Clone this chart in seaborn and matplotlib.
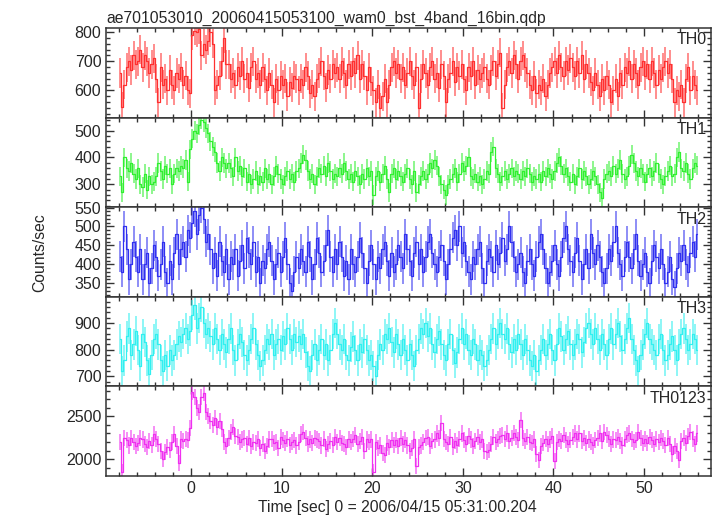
import numpy as np
import matplotlib
matplotlib.use("Agg")
import matplotlib.pyplot as plt
from matplotlib.ticker import MultipleLocator
import seaborn as sns

# light curve, 0.25 s bins starting at t = -8 s
t_start = -8.0
bin_size = 0.25

th0 = [
    660, 545, 620, 680, 700, 670, 720, 690,
    700, 740, 680, 720, 700, 660, 690, 710,
    640, 560, 680, 620, 640, 600, 670, 620,
    600, 660, 640, 680, 620, 650, 600, 590,
    790, 805, 800, 810, 720, 760, 740, 770,
    800, 760, 600, 620, 650, 700, 780, 690,
    690, 640, 660, 620, 680, 650, 700, 640,
    660, 610, 680, 700, 640, 660, 620, 680,
    640, 600, 660, 620, 560, 640, 600, 650,
    620, 640, 580, 630, 610, 650, 640, 600,
    640, 620, 680, 650, 590, 620, 580, 640,
    660, 700, 650, 610, 670, 640, 690, 660,
    680, 640, 700, 660, 620, 690, 650, 700,
    660, 720, 640, 690, 650, 600, 680, 630,
    600, 560, 620, 540, 580, 640, 560, 620,
    680, 700, 660, 690, 640, 680, 620, 660,
    700, 650, 620, 680, 540, 640, 690, 660,
    620, 680, 700, 640, 660, 610, 690, 650,
    560, 640, 660, 700, 630, 680, 650, 690,
    640, 600, 680, 650, 700, 620, 670, 640,
    660, 680, 640, 620, 670, 700, 650, 690,
    730, 540, 620, 680, 700, 660, 720, 690,
    640, 700, 720, 680, 660, 620, 600, 650,
    590, 620, 600, 640, 580, 620, 660, 680,
    700, 660, 720, 680, 650, 700, 670, 710,
    680, 650, 700, 660, 720, 640, 690, 660,
    630, 600, 660, 620, 580, 640, 600, 650,
    620, 560, 600, 640, 580, 660, 620, 680,
    660, 700, 640, 690, 660, 620, 680, 700,
    650, 690, 640, 700, 660, 620, 670, 640,
    680, 700, 660, 690, 640, 560, 600, 580,
    620, 560, 640, 680, 600, 650, 620, 600,
]

th1 = [
    330, 270, 400, 360, 350, 380, 340, 320,
    360, 300, 290, 340, 280, 330, 300, 310,
    330, 380, 350, 320, 370, 340, 360, 300,
    340, 360, 350, 370, 360, 390, 310, 430,
    470, 500, 490, 520, 540, 530, 510, 490,
    460, 440, 420, 380, 350, 400, 380, 360,
    380, 360, 330, 400, 350, 370, 330, 360,
    310, 340, 300, 320, 350, 300, 330, 310,
    360, 320, 340, 300, 330, 370, 340, 320,
    300, 330, 350, 320, 340, 310, 350, 360,
    380, 410, 390, 350, 320, 340, 300, 330,
    360, 340, 370, 330, 380, 350, 320, 340,
    330, 360, 340, 380, 350, 320, 340, 310,
    350, 330, 300, 340, 320, 360, 330, 350,
    260, 330, 350, 310, 340, 370, 320, 270,
    340, 360, 320, 350, 330, 310, 340, 360,
    320, 300, 350, 270, 300, 330, 350, 320,
    340, 380, 360, 390, 370, 330, 300, 280,
    260, 300, 320, 340, 360, 310, 340, 380,
    350, 370, 400, 330, 320, 340, 310, 330,
    300, 320, 350, 340, 420, 440, 360, 340,
    310, 330, 350, 320, 340, 360, 330, 350,
    340, 320, 350, 330, 360, 340, 310, 330,
    320, 340, 310, 350, 330, 360, 340, 320,
    350, 380, 400, 370, 340, 360, 330, 310,
    340, 300, 330, 360, 320, 350, 330, 300,
    320, 350, 330, 300, 270, 250, 320, 340,
    350, 330, 370, 340, 360, 390, 340, 320,
    330, 370, 410, 380, 350, 330, 360, 340,
    310, 340, 360, 330, 350, 380, 340, 320,
    300, 330, 350, 370, 330, 340, 400, 420,
    360, 350, 380, 340, 320, 360, 380, 370,
]

th2 = [
    420, 380, 500, 440, 360, 400, 460, 420,
    380, 440, 360, 400, 430, 350, 390, 450,
    420, 370, 400, 460, 380, 350, 410, 360,
    430, 480, 400, 440, 460, 420, 490, 470,
    510, 540, 480, 530, 550, 520, 460, 480,
    440, 390, 430, 370, 460, 410, 380, 440,
    360, 420, 400, 440, 370, 410, 450, 390,
    470, 430, 400, 460, 380, 420, 350, 410,
    390, 440, 460, 410, 360, 400, 430, 380,
    420, 470, 400, 350, 330, 380, 420, 390,
    440, 410, 380, 460, 420, 360, 400, 470,
    430, 380, 410, 450, 490, 420, 380, 440,
    400, 460, 420, 370, 410, 360, 440, 400,
    380, 420, 470, 430, 390, 350, 410, 450,
    400, 360, 420, 390, 440, 460, 410, 370,
    430, 380, 400, 450, 420, 390, 480, 440,
    410, 370, 430, 460, 400, 440, 380, 420,
    460, 480, 430, 400, 380, 420, 450, 410,
    360, 400, 440, 470, 490, 450, 500, 430,
    460, 410, 380, 360, 420, 400, 440, 460,
    390, 350, 410, 440, 420, 380, 450, 400,
    430, 470, 410, 440, 500, 460, 420, 380,
    400, 430, 380, 350, 410, 440, 400, 370,
    420, 460, 480, 440, 390, 350, 380, 410,
    450, 400, 370, 420, 470, 500, 440, 410,
    380, 430, 470, 410, 360, 400, 440, 390,
    480, 430, 400, 450, 420, 380, 350, 390,
    440, 410, 460, 500, 430, 400, 370, 420,
    460, 420, 390, 440, 480, 410, 370, 400,
    430, 380, 350, 410, 450, 420, 390, 440,
    400, 350, 380, 420, 360, 340, 390, 430,
    410, 450, 400, 380, 430, 460, 420, 480,
]

th3 = [
    840, 720, 760, 850, 880, 780, 820, 870,
    800, 740, 860, 830, 760, 710, 780, 840,
    860, 820, 760, 720, 780, 740, 800, 760,
    780, 820, 850, 830, 860, 880, 840, 870,
    930, 970, 880, 920, 960, 900, 860, 880,
    850, 820, 880, 840, 800, 860, 820, 790,
    840, 880, 800, 760, 820, 860, 830, 780,
    760, 800, 840, 880, 820, 780, 740, 760,
    800, 840, 820, 860, 780, 820, 840, 800,
    850, 820, 880, 840, 800, 860, 830, 850,
    820, 860, 790, 740, 720, 780, 820, 760,
    800, 840, 780, 820, 760, 800, 860, 900,
    860, 820, 800, 840, 780, 760, 810, 850,
    800, 760, 820, 790, 840, 800, 760, 780,
    740, 700, 780, 820, 800, 860, 840, 880,
    830, 790, 860, 820, 780, 840, 800, 760,
    820, 780, 740, 800, 840, 880, 860, 900,
    850, 880, 820, 790, 840, 870, 820, 780,
    760, 820, 860, 800, 750, 790, 840, 880,
    820, 860, 800, 780, 840, 820, 760, 800,
    780, 740, 760, 800, 840, 880, 820, 860,
    900, 860, 840, 880, 820, 790, 840, 800,
    860, 820, 780, 840, 800, 760, 740, 780,
    720, 760, 800, 840, 780, 820, 860, 800,
    760, 820, 880, 850, 800, 840, 870, 820,
    780, 820, 860, 840, 790, 830, 880, 900,
    860, 820, 880, 840, 800, 860, 820, 780,
    840, 880, 820, 860, 900, 850, 800, 840,
    880, 920, 840, 800, 760, 720, 780, 820,
    860, 900, 840, 820, 800, 780, 840, 860,
    800, 760, 780, 820, 850, 800, 760, 820,
    860, 880, 840, 800, 820, 860, 840, 800,
]

th0123 = [
    2200, 1850, 2250, 2220, 2160, 2250, 2200, 2150,
    2190, 2250, 2230, 2180, 2140, 2210, 2170, 2290,
    2240, 2180, 2100, 2000, 2080, 2140, 2110, 2200,
    2290, 2150, 1960, 2230, 2210, 2240, 2220, 2360,
    2780, 2720, 2600, 2550, 2720, 2770, 2550, 2500,
    2450, 2400, 2480, 2380, 2440, 2350, 2200, 2150,
    2250, 2320, 2380, 2270, 2260, 2200, 2230, 2250,
    2180, 2250, 2150, 2200, 2190, 2240, 2130, 2180,
    2100, 2150, 2230, 2240, 2190, 2200, 2130, 2260,
    2220, 2190, 2240, 2170, 2200, 2220, 2160, 2200,
    2290, 2320, 2250, 2180, 2230, 2190, 2250, 2230,
    2210, 2160, 2240, 2120, 2180, 2210, 2170, 2260,
    2200, 2250, 2190, 2180, 2140, 2230, 2200, 2240,
    2280, 2180, 2210, 2260, 2100, 2230, 2200, 2230,
    1850, 2200, 2130, 2160, 2070, 2050, 2190, 2140,
    2220, 2170, 2220, 2150, 2250, 2180, 2220, 2160,
    2100, 2130, 2230, 1920, 2140, 2160, 2200, 2250,
    2260, 2150, 2210, 2230, 2300, 2250, 2420, 2240,
    2200, 2180, 2260, 2140, 2210, 2170, 2240, 2300,
    2220, 2180, 2270, 2230, 2150, 2210, 2260, 2200,
    2230, 2100, 2080, 2110, 2180, 2260, 2200, 2240,
    2270, 2280, 2240, 2300, 2210, 2250, 2310, 2260,
    2220, 2460, 2250, 2210, 2260, 2200, 2190, 2230,
    2060, 1990, 2150, 2190, 2240, 2180, 2230, 2270,
    1980, 2200, 2240, 2210, 2280, 2220, 2180, 2220,
    2260, 2300, 2230, 2300, 2210, 2250, 2190, 2230,
    2200, 2160, 2220, 2250, 2300, 2210, 2320, 2280,
    2240, 2180, 2230, 2220, 2260, 2210, 2160, 2240,
    2280, 2300, 2240, 2200, 2220, 2320, 2250, 2190,
    2240, 2190, 2260, 2220, 2180, 2240, 2200, 2250,
    2210, 2170, 2250, 2180, 2060, 2150, 2100, 1990,
    2210, 2250, 2190, 2270, 2320, 2240, 2180, 2300,
]

bands = ["TH0", "TH1", "TH2", "TH3", "TH0123"]
rates = [th0, th1, th2, th3, th0123]
errors = [50, 36, 41, 57, 94]  # typical 1-sigma half length per band

colors = ["#ff3030", "#30f030", "#3030f0", "#30f0f0", "#f030f0"]
ylims = [(507, 814), (215, 548), (314, 551), (662, 999), (1804, 2848)]
ymajor = [100, 100, 50, 100, 500]
yminor = [20, 20, 10, 20, 100]

sns.set_style("ticks")
plt.rcParams["font.family"] = ["Liberation Sans", "DejaVu Sans"]

fig, axes = plt.subplots(5, 1, sharex=True, figsize=(7.17, 5.16), dpi=100)
fig.subplots_adjust(left=0.148, right=0.9916, top=0.9457, bottom=0.0775, hspace=0)

for i, ax in enumerate(axes):
    v = np.array(rates[i], dtype=float)
    t = t_start + bin_size * (np.arange(len(v)) + 0.5)
    ax.errorbar(t, v, yerr=errors[i], fmt="none", ecolor=colors[i],
                elinewidth=1.4, alpha=0.55, capsize=0)
    sns.lineplot(x=t, y=v, ax=ax, color=colors[i], lw=0.9,
                 drawstyle="steps-mid", estimator=None)
    ax.set_ylim(*ylims[i])
    ax.set_xlim(-9.4, 57.4)
    ax.set_ylabel("")
    ax.yaxis.set_major_locator(MultipleLocator(ymajor[i]))
    ax.yaxis.set_minor_locator(MultipleLocator(yminor[i]))
    ax.xaxis.set_major_locator(MultipleLocator(10))
    ax.xaxis.set_minor_locator(MultipleLocator(2))
    ax.tick_params(which="both", direction="in", top=True, right=True,
                   labelsize=11.5, color="#333333", width=1)
    ax.tick_params(which="major", length=5.5)
    ax.tick_params(which="minor", length=3)
    for s in ax.spines.values():
        s.set_color("#333333")
        s.set_linewidth(1.1)
    ax.text(0.993, 0.95, bands[i], transform=ax.transAxes, ha="right",
            va="top", fontsize=11.5)

axes[0].set_title("ae701053010_20060415053100_wam0_bst_4band_16bin.qdp",
                  loc="left", fontsize=11.3, pad=4)
axes[-1].set_xlabel("Time [sec] 0 = 2006/04/15 05:31:00.204", fontsize=11.3)
axes[-1].xaxis.set_label_coords(0.481, -0.265)
fig.text(0.056, 0.51, "Counts/sec", rotation=90, ha="center", va="center",
         fontsize=11.3)

fig.savefig("out.png", dpi=100)
